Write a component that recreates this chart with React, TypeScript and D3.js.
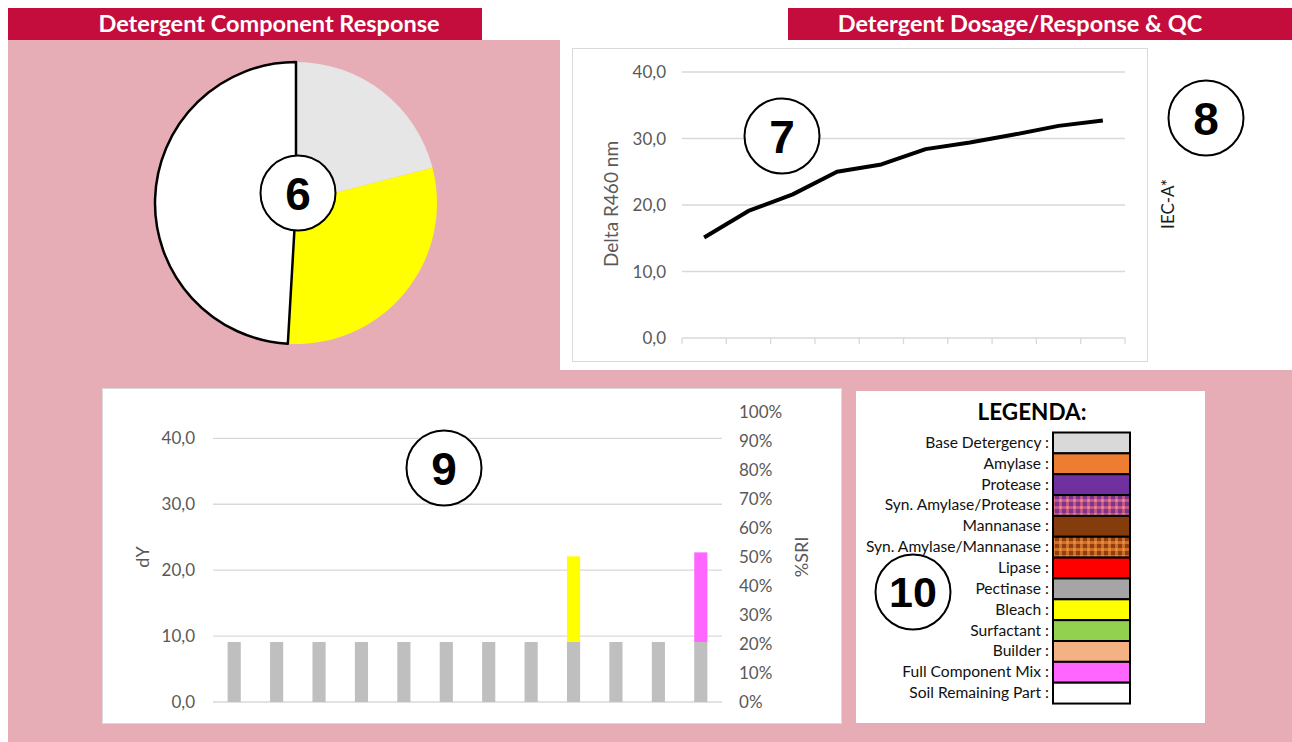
import React from 'react';
import * as d3 from 'd3';

// ---- data ----
const pieLabels = ['Base Detergency', 'Bleach', 'Soil Remaining Part'];
const pieValues = [9.1, 13.0, 21.3];
const pieColors = ['#E6E6E6', '#FFFF00', '#FFFFFF'];

const doseCategories = ['1', '2', '3', '4', '5', '6', '7', '8', '9', '10'];
const doseValues = [15.1, 19.1, 21.6, 25.0, 26.1, 28.4, 29.4, 30.6, 31.9, 32.7];
const doseTicks = [0, 10, 20, 30, 40];

const barCategories = [
  'Base Detergency', 'Amylase', 'Protease', 'Syn. Amylase/Protease', 'Mannanase',
  'Syn. Amylase/Mannanase', 'Lipase', 'Pectinase', 'Bleach', 'Surfactant', 'Builder',
  'Full Component Mix',
];
const baseValues = [9.1, 9.1, 9.1, 9.1, 9.1, 9.1, 9.1, 9.1, 9.1, 9.1, 9.1, 9.1];
const componentValues = [0, 0, 0, 0, 0, 0, 0, 0, 13.0, 0, 0, 13.6];
const dyTicks = [0, 10, 20, 30, 40];
const sriTicks = [0, 0.1, 0.2, 0.3, 0.4, 0.5, 0.6, 0.7, 0.8, 0.9, 1.0];

const legendLabels = [...barCategories, 'Soil Remaining Part'];
const legendFills = [
  '#D9D9D9', '#ED7D31', '#7030A0', 'url(#synAP)', '#843C0C', 'url(#synAM)', '#FF0000',
  '#A5A5A5', '#FFFF00', '#92D050', '#F4B183', '#FF66FF', '#FFFFFF',
];

const FONT = 'Lato, "Open Sans", sans-serif';
const NUMFONT = '"Liberation Sans", Arial, sans-serif';
const CRIMSON = '#C40D3D';
const PINK = '#E7ADB7';
const GRID = '#D9D9D9';
const TICK = '#595959';

const fmt = (v: number) => v.toFixed(1).replace('.', ',');

const Badge = ({ x, y, label, size = 46 }: { x: number; y: number; label: string; size?: number }) => (
  <g>
    <circle cx={x} cy={y} r={37.5} fill="#fff" stroke="#000" strokeWidth={2} />
    <text x={x} y={y + size * 0.36} textAnchor="middle" fontFamily={NUMFONT} fontWeight="bold" fontSize={size}>
      {label}
    </text>
  </g>
);

export default function App() {
  // pie
  const pieCx = 296, pieCy = 203, pieR = 141;
  const arcs = d3.pie<number>().sort(null).startAngle(0).endAngle(2 * Math.PI)(pieValues);
  const arcGen = d3.arc<d3.PieArcDatum<number>>().innerRadius(0).outerRadius(pieR);

  // line chart
  const lx = d3.scaleBand().domain(doseCategories).range([682, 1125]);
  const ly = d3.scaleLinear().domain([0, 40]).range([338, 72]);
  const line = d3.line<number>()
    .x((_, i) => (lx(doseCategories[i]) as number) + lx.bandwidth() / 2)
    .y(d => ly(d));

  // bar chart
  const bx = d3.scaleBand().domain(barCategories).range([213, 722]).paddingInner(0.69).paddingOuter(0.345);
  const by = d3.scaleLinear().domain([0, 44]).range([702, 412]);
  const sri = d3.scaleLinear().domain([0, 1]).range([702, 412]);

  const rowH = 20.85;
  const legTop = 432.5;

  return (
    <svg width={1292} height={742} style={{ position: 'absolute', left: 0, top: 0 }} fontFamily={FONT}>
      <defs>
        <pattern id="synAP" width={7} height={7} patternUnits="userSpaceOnUse">
          <rect width={7} height={7} fill="#7A3592" />
          <rect x={0} y={2} width={7} height={3} fill="#D9627E" opacity={0.75} />
          <rect x={2} y={0} width={3} height={7} fill="#D9627E" opacity={0.75} />
          <rect x={2.5} y={2.5} width={2} height={2} fill="#F2A0A8" />
        </pattern>
        <pattern id="synAM" width={7} height={7} patternUnits="userSpaceOnUse">
          <rect width={7} height={7} fill="#8E400F" />
          <rect x={0} y={2} width={7} height={3} fill="#E07A2E" opacity={0.8} />
          <rect x={2} y={0} width={3} height={7} fill="#E07A2E" opacity={0.8} />
          <rect x={2.5} y={2.5} width={2} height={2} fill="#F59A4A" />
        </pattern>
      </defs>
      <rect width={1292} height={742} fill="#fff" />

      {/* backgrounds */}
      <rect x={8} y={40} width={552} height={330} fill={PINK} />
      <rect x={8} y={370} width={1284} height={372} fill={PINK} />
      <rect x={8} y={8} width={474} height={32} fill={CRIMSON} />
      <rect x={788} y={8} width={504} height={32} fill={CRIMSON} />
      <text x={269} y={32} textAnchor="middle" fill="#fff" fontWeight="bold" fontSize={23.5}>
        Detergent Component Response
      </text>
      <text x={1020} y={32} textAnchor="middle" fill="#fff" fontWeight="bold" fontSize={23.5}>
        Detergent Dosage/Response &amp; QC
      </text>

      {/* pie 6 */}
      <g transform={`translate(${pieCx},${pieCy})`}>
        {arcs.map((a, i) => (
          <path key={pieLabels[i]} d={arcGen(a) as string} fill={pieColors[i]}
            stroke={i === 2 ? '#000' : 'none'} strokeWidth={2.5} strokeLinejoin="round" />
        ))}
      </g>
      <Badge x={298} y={193} label="6" />

      {/* line chart 7 */}
      <rect x={572.5} y={48.5} width={575} height={313} fill="#fff" stroke={GRID} />
      {doseTicks.map(t => (
        <g key={t}>
          <line x1={682} x2={1125} y1={ly(t)} y2={ly(t)} stroke={GRID} strokeWidth={1.3} />
          <text x={666} y={ly(t) + 6} textAnchor="end" fontSize={17} fill={TICK}>{fmt(t)}</text>
        </g>
      ))}
      {[...doseCategories.map(c => lx(c) as number), 1125].map((x, i) => (
        <line key={i} x1={x} x2={x} y1={338} y2={344} stroke={GRID} strokeWidth={1.3} />
      ))}
      <text transform={`translate(618,204) rotate(-90)`} textAnchor="middle" fontSize={19} fill={TICK}>
        Delta R460 nm
      </text>
      <path d={line(doseValues) as string} fill="none" stroke="#000" strokeWidth={4} strokeLinejoin="round" />
      <Badge x={782} y={136} label="7" />

      {/* 8 */}
      <Badge x={1206} y={118} label="8" />
      <text transform={`translate(1174,204) rotate(-90)`} textAnchor="middle" fontSize={17} fill="#1a1a1a">
        IEC-A*
      </text>

      {/* bar chart 9 */}
      <rect x={102.5} y={388.5} width={739} height={335} fill="#fff" stroke={GRID} />
      {dyTicks.map(t => (
        <g key={t}>
          <line x1={213} x2={722} y1={by(t)} y2={by(t)} stroke={GRID} strokeWidth={1.3} />
          <text x={195} y={by(t) + 6} textAnchor="end" fontSize={17} fill={TICK}>{fmt(t)}</text>
        </g>
      ))}
      {sriTicks.map(t => (
        <text key={t} x={739} y={sri(t) + 6} fontSize={17} fill={TICK}>{Math.round(t * 100)}%</text>
      ))}
      <text transform={`translate(149,557) rotate(-90)`} textAnchor="middle" fontSize={18} fill={TICK}>dY</text>
      <text transform={`translate(808,557) rotate(-90)`} textAnchor="middle" fontSize={18} fill={TICK}>%SRI</text>
      {barCategories.map((c, i) => (
        <g key={c}>
          <rect x={bx(c)} y={by(baseValues[i])} width={bx.bandwidth()} height={by(0) - by(baseValues[i])} fill="#BFBFBF" />
          {componentValues[i] > 0 && (
            <rect x={bx(c)} y={by(baseValues[i] + componentValues[i])} width={bx.bandwidth()}
              height={by(baseValues[i]) - by(baseValues[i] + componentValues[i])}
              fill={legendFills[i]} />
          )}
        </g>
      ))}
      <Badge x={444} y={468} label="9" />

      {/* legend 10 */}
      <rect x={856} y={391} width={349} height={332} fill="#fff" />
      <text x={1032} y={420} textAnchor="middle" fontWeight="bold" fontSize={22.5} fill="#000">LEGENDA:</text>
      {legendLabels.map((l, i) => (
        <g key={l}>
          <rect x={1053} y={legTop + i * rowH} width={77} height={rowH} fill={legendFills[i]} stroke="#000" strokeWidth={2} />
          <text x={1049} y={legTop + i * rowH + rowH / 2 + 5} textAnchor="end" fontSize={15.6} fill="#111">
            {l} :
          </text>
        </g>
      ))}
      <Badge x={913} y={592} label="10" size={43} />
    </svg>
  );
}
